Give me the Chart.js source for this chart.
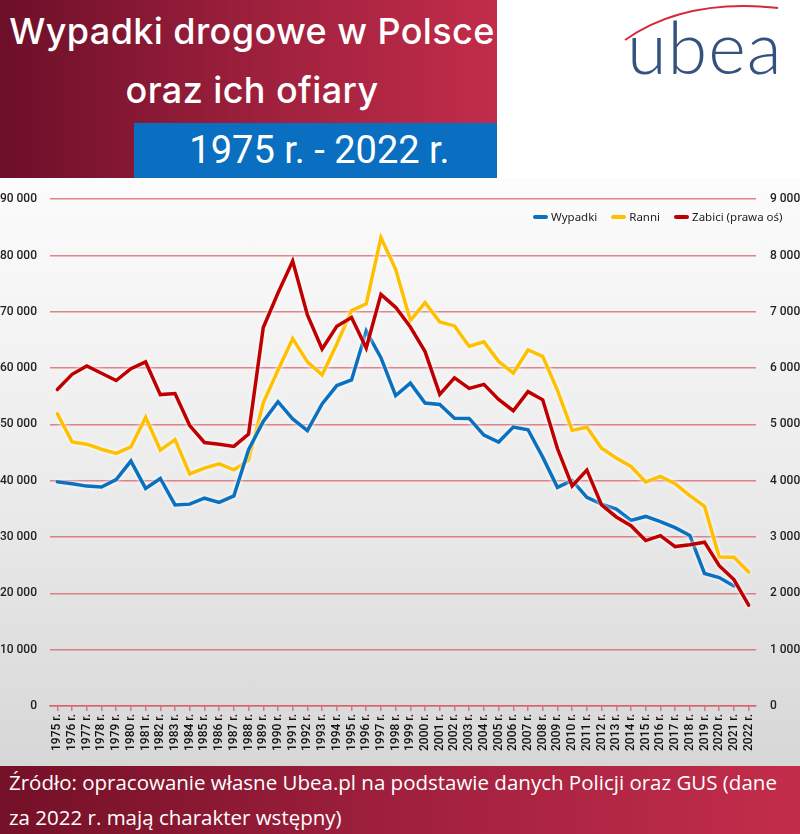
<!DOCTYPE html>
<html lang="pl">
<head>
<meta charset="utf-8">
<script src="https://cdn.jsdelivr.net/npm/chart.js@4.4.1/dist/chart.umd.min.js"></script>
<style>
  body { margin: 0; width: 800px; height: 834px; position: relative; overflow: hidden; background: #fff; font-family: "Inter", "Noto Sans", sans-serif; }
  #title { position: absolute; left: 0; top: 0; width: 497px; height: 178px; background: linear-gradient(90deg, #6d0f29 0%, #a0213e 55%, #c12d4a 100%); color: #fff; }
  #title .l1 { position: absolute; left: 0; width: 504px; top: 9px; text-align: center; font-size: 36px; font-weight: 500; letter-spacing: 0.4px; }
  #title .l2 { position: absolute; left: 0; width: 504px; top: 68px; text-align: center; font-size: 36px; font-weight: 500; letter-spacing: 0.4px; }
  #years { position: absolute; left: 134px; top: 123px; width: 363px; height: 55px; background: #0a6fc0; color: #fff; font-family: Roboto, sans-serif; font-size: 38px; text-align: center; line-height: 55px; padding-left: 8px; box-sizing: border-box; }
  #logo { position: absolute; left: 600px; top: 0; width: 200px; height: 120px; }
  #logo span { position: absolute; left: 27px; top: 3px; font-family: Lato, sans-serif; font-weight: 300; font-size: 72px; color: #34527f; letter-spacing: 1px; }
  #wrap { position: absolute; left: 0; top: 178px; width: 800px; height: 588px; background: linear-gradient(180deg, #fcfcfc 0%, #ececec 50%, #d7d7d7 100%); }
  #legend { position: absolute; left: 533px; top: 209px; display: flex; align-items: center; font-family: "Noto Sans", sans-serif; font-size: 11.5px; color: #222; }
  #legend .it { display: flex; align-items: center; margin-right: 14px; }
  #legend .mk { width: 15px; height: 4px; border-radius: 2px; margin-right: 3px; }
  #foot { position: absolute; left: 0; top: 766px; width: 800px; height: 68px; background: linear-gradient(90deg, #741027 0%, #a0203e 50%, #c22d4b 100%); color: #fff; font-family: "Open Sans", sans-serif; font-size: 20.5px; }
  #foot div { position: absolute; left: 9px; white-space: nowrap; }
</style>
</head>
<body>
<div id="title">
  <div class="l1">Wypadki drogowe w Polsce</div>
  <div class="l2">oraz ich ofiary</div>
</div>
<div id="years">1975 r. - 2022 r.</div>
<div id="logo">
  <svg width="200" height="60" style="position:absolute;left:0;top:0">
    <path d="M25,40 Q85,-2 178,8" fill="none" stroke="#d52a3d" stroke-width="2"/>
  </svg>
  <span>ubea</span>
</div>
<div id="wrap"><canvas id="chart"></canvas></div>
<div id="legend"></div>
<div id="foot">
  <div style="top:2px">Źródło: opracowanie własne Ubea.pl na podstawie danych Policji oraz GUS (dane</div>
  <div style="top:37px">za 2022 r. mają charakter wstępny)</div>
</div>
<script>
// lata (etykiety osi X)
const lata = ["1975 r.", "1976 r.", "1977 r.", "1978 r.", "1979 r.", "1980 r.", "1981 r.", "1982 r.",
  "1983 r.", "1984 r.", "1985 r.", "1986 r.", "1987 r.", "1988 r.", "1989 r.", "1990 r.", "1991 r.",
  "1992 r.", "1993 r.", "1994 r.", "1995 r.", "1996 r.", "1997 r.", "1998 r.", "1999 r.", "2000 r.",
  "2001 r.", "2002 r.", "2003 r.", "2004 r.", "2005 r.", "2006 r.", "2007 r.", "2008 r.", "2009 r.",
  "2010 r.", "2011 r.", "2012 r.", "2013 r.", "2014 r.", "2015 r.", "2016 r.", "2017 r.", "2018 r.",
  "2019 r.", "2020 r.", "2021 r.", "2022 r."];

// Wypadki (lewa oś) - na wykresie linia konczy sie rok wczesniej
const wypadki = [39800, 39450, 39050, 38900, 40200, 43500, 38650, 40400, 35700, 35850, 36900, 36150,
  37300, 45500, 50532, 54038, 50990, 48901, 53643, 56904, 57911, 66586, 61855, 55106, 57331, 53799,
  53559, 51078, 51069, 48100, 46876, 49536, 49054, 44196, 38832, 40065, 37046, 35847, 34970, 32967,
  33664, 32760, 31674, 30288, 23540, 22816, 21322, null];

// Ranni (lewa oś)
const ranni = [51900, 46900, 46500, 45600, 44850, 46000, 51250, 45450, 47300, 41200, 42250, 43000,
  41950, 43600, 53850, 59611, 65252, 61104, 58800, 64300, 70226, 71419, 83162, 77560, 68449, 71638,
  68194, 67498, 63900, 64661, 61191, 59123, 63224, 62097, 56046, 48952, 49501, 45792, 44059, 42545,
  39778, 40766, 39466, 37359, 35477, 26463, 26415, 23800];

// Zabici (prawa oś)
const zabici = [5620, 5890, 6040, 5910, 5780, 5990, 6110, 5530, 5550, 4980, 4680, 4650, 4610, 4830,
  6720, 7333, 7901, 6946, 6341, 6744, 6900, 6359, 7310, 7080, 6730, 6294, 5534, 5827, 5640, 5712,
  5444, 5243, 5583, 5437, 4572, 3907, 4189, 3571, 3357, 3202, 2938, 3026, 2831, 2862, 2909, 2491,
  2245, 1790];

const nazwy = ["Wypadki", "Ranni", "Zabici (prawa oś)"];
const kolory = ["#0a70c0", "#ffc000", "#c00000"];

const siatka = "rgba(214, 84, 94, 0.7)";
const fmt = (v) => String(v).replace(/\B(?=(\d{3})+(?!\d))/g, " ");

// biala poswiata pod liniami
const poswiata = {
  id: "poswiata",
  beforeDatasetsDraw(chart) {
    const ctx = chart.ctx;
    ctx.save();
    ctx.shadowColor = "rgba(255,255,255,0.95)";
    ctx.shadowBlur = 4;
  },
  afterDatasetsDraw(chart) {
    chart.ctx.restore();
  },
};

const ctx = document.getElementById("chart").getContext("2d");

new Chart(ctx, {
  type: "line",
  data: {
    labels: lata,
    datasets: [
      { label: nazwy[0], data: wypadki, yAxisID: "y", borderColor: kolory[0], order: 1 },
      { label: nazwy[1], data: ranni, yAxisID: "y", borderColor: kolory[1], order: 2 },
      { label: nazwy[2], data: zabici, yAxisID: "y2", borderColor: kolory[2], order: 0 },
    ],
  },
  options: {
    responsive: true,
    maintainAspectRatio: false,
    animation: false,
    layout: { padding: { top: 11, left: 0, right: 0, bottom: 0 } },
    elements: {
      line: { borderWidth: 3.5, tension: 0, borderCapStyle: "round", borderJoinStyle: "miter" },
      point: { radius: 0 },
    },
    plugins: { legend: { display: false }, tooltip: { enabled: false } },
    scales: {
      x: {
        offset: true,
        grid: { drawOnChartArea: false, drawTicks: true, tickLength: 5, color: siatka, lineWidth: 1.5 },
        border: { color: siatka, width: 1.5 },
        ticks: {
          autoSkip: false, minRotation: 90, maxRotation: 90, padding: 3, color: "#111",
          font: { family: "Roboto", size: 12, weight: 500 },
        },
        afterFit: (s) => { s.height = 60; },
      },
      y: {
        position: "left", min: 0, max: 90000,
        grid: { color: siatka, lineWidth: 1.5, drawTicks: false },
        border: { display: false },
        ticks: { stepSize: 10000, padding: 13, color: "#222", font: { family: "Roboto", size: 12, weight: 500 }, callback: fmt },
        afterFit: (s) => { s.width = 50; },
      },
      y2: {
        position: "right", min: 0, max: 9000,
        grid: { drawOnChartArea: false, drawTicks: false },
        border: { display: false },
        ticks: { stepSize: 1000, padding: 14, color: "#222", font: { family: "Roboto", size: 12, weight: 500 }, callback: fmt },
        afterFit: (s) => { s.width = 44; },
      },
    },
  },
  plugins: [poswiata],
});

// legenda
const legenda = document.getElementById("legend");
nazwy.forEach((n, i) => {
  const it = document.createElement("div");
  it.className = "it";
  it.innerHTML = '<span class="mk" style="background:' + kolory[i] + '"></span><span>' + n + "</span>";
  legenda.appendChild(it);
});
</script>
</body>
</html>
